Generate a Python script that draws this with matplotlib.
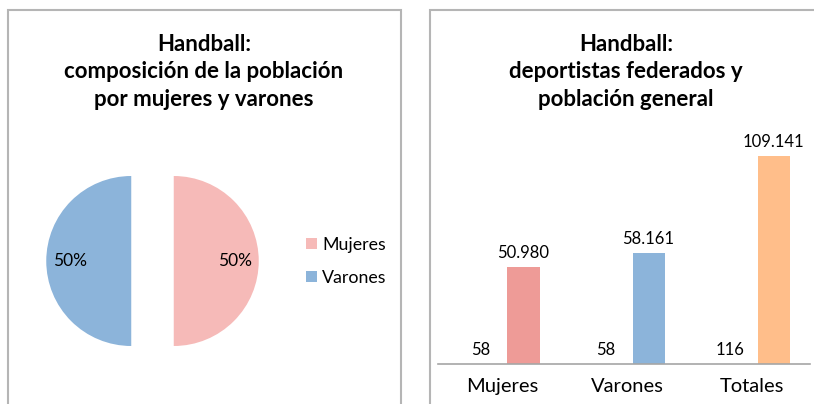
import numpy as np
import matplotlib
matplotlib.use('Agg')
import matplotlib.pyplot as plt
from matplotlib.patches import Rectangle, Patch

plt.rcParams['font.family'] = ['Lato', 'DejaVu Sans']

# pie data
pie_labels = ['Mujeres', 'Varones']
pie_values = [50, 50]
pie_colors = ['#F6BAB8', '#8CB4DA']

# bar data
categories = ['Mujeres', 'Varones', 'Totales']
federados = [58, 58, 116]
poblacion = [50980, 58161, 109141]
bar_colors = ['#EE9B97', '#8CB4DA', '#FFBE8A']

W, H = 814, 404
fig = plt.figure(figsize=(W / 100, H / 100), dpi=100)


def px_axes(x0, y0_top, w, h):
    # axes from pixel box (top-left origin)
    return fig.add_axes([x0 / W, (H - y0_top - h) / H, w / W, h / H])


# panel frames
for x0, x1 in [(8, 401), (430, 822)]:
    fig.patches.append(Rectangle((x0 / W, -0.1), (x1 - x0) / W, (H - 10) / H + 0.1,
                                 transform=fig.transFigure, fill=False,
                                 edgecolor='#B5B5B5', linewidth=1.5))

# titles
fig.text(204 / W, 1 - 72 / H, 'Handball:\ncomposición de la población\npor mujeres y varones',
         ha='center', va='center', fontsize=16, fontweight='bold', linespacing=1.38)
fig.text(626 / W, 1 - 72 / H, 'Handball:\ndeportistas federados y\npoblación general',
         ha='center', va='center', fontsize=16, fontweight='bold', linespacing=1.38)

# ---- pie
ax1 = px_axes(152.5 - 127.5, 261 - 127.5, 255, 255)
wedges, texts, autotexts = ax1.pie(pie_values, colors=pie_colors, startangle=90,
                                   counterclock=False, explode=[0.25, 0.25],
                                   autopct='%1.0f%%', pctdistance=0.72,
                                   textprops={'fontsize': 12.5})
ax1.set_xlim(-1.5, 1.5)
ax1.set_ylim(-1.5, 1.5)
ax1.set_aspect('equal')
ax1.axis('off')

handles = [Patch(facecolor=c, edgecolor='none') for c in pie_colors]
fig.legend(handles, pie_labels, loc='center left', bbox_to_anchor=(290 / W, 1 - 261.5 / H),
           frameon=False, fontsize=12.8, handlelength=0.6, handleheight=0.6,
           handletextpad=0.3, labelspacing=0.95)

# ---- bars
ax2 = px_axes(438, 140, 372, 224)
x = np.arange(len(categories))
bw = 0.256
off = 0.172
ax2.bar(x - off, federados, bw, color=bar_colors)
ax2.bar(x + off, poblacion, bw, color=bar_colors)
ax2.set_xlim(-0.512, 2.464)
ax2.set_ylim(0, 109141 * 224 / 208)

for xi, v in zip(x - off, federados):
    ax2.annotate(f'{v:,}'.replace(',', '.'), (xi, v), xytext=(0, 6), textcoords='offset pixels',
                 ha='center', va='bottom', fontsize=12, annotation_clip=False)
for xi, v in zip(x + off, poblacion):
    ax2.annotate(f'{v:,}'.replace(',', '.'), (xi, v), xytext=(0, 6), textcoords='offset pixels',
                 ha='center', va='bottom', fontsize=12, annotation_clip=False)

for s in ['top', 'right', 'left']:
    ax2.spines[s].set_visible(False)
ax2.spines['bottom'].set_color('#A6A6A6')
ax2.spines['bottom'].set_linewidth(1.2)
ax2.set_yticks([])
ax2.set_xticks(x)
ax2.set_xticklabels(categories, fontsize=14.5)
ax2.tick_params(axis='x', length=0, pad=10)

fig.savefig('out.png', dpi=100)
